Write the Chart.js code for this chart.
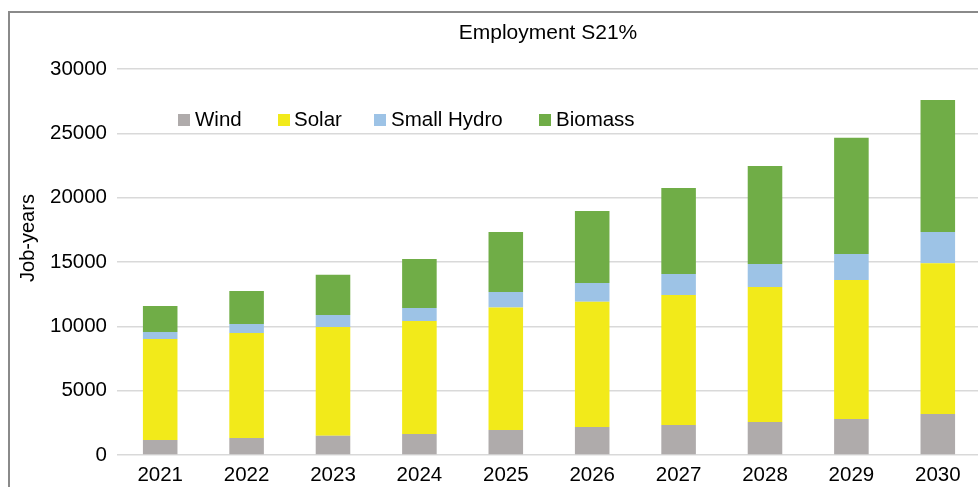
<!DOCTYPE html>
<html>
<head>
<meta charset="utf-8">
<script src="https://cdn.jsdelivr.net/npm/chart.js@4"></script>
<style>
  html, body { margin: 0; padding: 0; overflow: hidden; background: #fff; width: 978px; height: 487px; }
  #wrap { position: absolute; left: 0; top: 0; width: 981px; height: 487px; }
  #frame { position: absolute; left: 8px; top: 11px; width: 990px; height: 490px;
           border-left: 2px solid #8a8a8a; border-top: 2px solid #8a8a8a; }
  .txt { position: absolute; font-family: "Liberation Sans", Arial, sans-serif; color: #000; white-space: nowrap; }
  #title { left: 548px; top: 32px; transform: translate(-50%, -50%); font-size: 21px; }
  #ytitle { left: 27px; top: 238px; transform: translate(-50%, -50%) rotate(-90deg); font-size: 20px; }
  .sw { position: absolute; width: 12px; height: 12px; top: 114px; }
  .lt { top: 119px; transform: translateY(-50%); font-size: 20.5px; }
</style>
</head>
<body>
<div id="wrap">
  <div id="frame"></div>
  <canvas id="c" width="981" height="487"></canvas>
  <div id="title" class="txt">Employment S21%</div>
  <div id="ytitle" class="txt">Job-years</div>
  <div id="legend"></div>
</div>
<script>
const categories = ["2021","2022","2023","2024","2025","2026","2027","2028","2029","2030"];
const wind    = [1170, 1320, 1500, 1630, 1945, 2180, 2330, 2565, 2800, 3190];
const solar   = [7850, 8170, 8450, 8790, 9510, 9740, 10110, 10495, 10810, 11720];
const hydro   = [545, 700, 940, 1010, 1220, 1455, 1635, 1790, 2020, 2430];
const biomass = [2025, 2560, 3110, 3810, 4665, 5595, 6685, 7620, 9020, 10260];
const seriesNames = ["Wind", "Solar", "Small Hydro", "Biomass"];
const seriesColors = ["#AFABAB", "#F2EA1A", "#9DC3E6", "#70AD47"];
const yTicks = [0, 5000, 10000, 15000, 20000, 25000, 30000];

const FONT = "'Liberation Sans', Arial, sans-serif";
const seriesData = [wind, solar, hydro, biomass];

// HTML legend
const legendPos = [[178, 195], [277.5, 294], [374, 391], [539, 556]];
const legendEl = document.getElementById('legend');
seriesNames.forEach((n, i) => {
  const sw = document.createElement('div');
  sw.className = 'sw';
  sw.style.left = legendPos[i][0] + 'px';
  sw.style.background = seriesColors[i];
  legendEl.appendChild(sw);
  const t = document.createElement('div');
  t.className = 'txt lt';
  t.style.left = legendPos[i][1] + 'px';
  t.textContent = n;
  legendEl.appendChild(t);
});

new Chart(document.getElementById('c'), {
  type: 'bar',
  data: {
    labels: categories,
    datasets: seriesNames.map((n, i) => ({
      label: n,
      data: seriesData[i],
      backgroundColor: seriesColors[i],
      borderWidth: 0,
      barPercentage: 0.4,
      categoryPercentage: 1.0
    }))
  },
  options: {
    responsive: false,
    animation: false,
    layout: { padding: { top: 69, left: 0, right: 0, bottom: 0 } },
    plugins: { legend: { display: false }, title: { display: false }, tooltip: { enabled: false } },
    scales: {
      x: {
        stacked: true,
        grid: { display: false, drawTicks: false },
        border: { display: false },
        ticks: { color: '#000', font: { family: FONT, size: 20.5 }, padding: 8, maxRotation: 0 },
        afterFit: (s) => { s.height = 32; }
      },
      y: {
        stacked: true,
        min: 0, max: 30000,
        afterBuildTicks: (s) => { s.ticks = yTicks.map(v => ({ value: v })); },
        grid: { color: '#d9d9d9', lineWidth: 1.5, drawTicks: false },
        border: { display: false },
        ticks: { color: '#000', font: { family: FONT, size: 20.5 }, padding: 10,
                 callback: (v) => String(v) },
        afterFit: (s) => { s.width = 117; }
      }
    }
  }
});
</script>
</body>
</html>
